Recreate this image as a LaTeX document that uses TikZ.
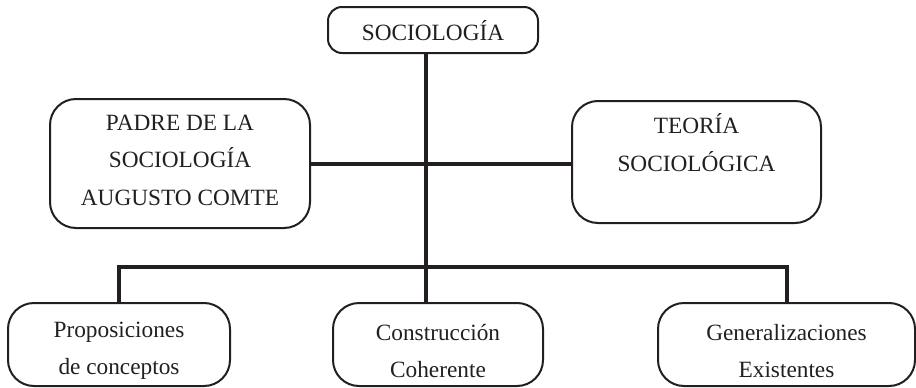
\documentclass[tikz,border=0pt]{standalone}
\usepackage{fontspec}
\setmainfont{Liberation Serif}
\definecolor{ink}{HTML}{231F20}
\begin{document}
\begin{tikzpicture}[x=1pt,y=-1pt,
  box/.style={draw=ink,line width=2pt,inner sep=0pt,rounded corners=#1},
  box/.default=26pt,
  txt/.style={text=ink,align=center,inner sep=0pt,
    font=\fontsize{23.3}{37.5}\selectfont},
  conn/.style={draw=ink,line width=4pt}]
\useasboundingbox (0,0) rectangle (916,388);
\node[box=14pt,minimum width=210pt,minimum height=46pt,
  label={[txt,yshift=-1pt]center:SOCIOLOGÍA}] (top) at (433,30) {};
\node[box,minimum width=260pt,minimum height=129pt,
  label={[txt,yshift=3.5pt]center:PADRE DE LA\\SOCIOLOGÍA\\AUGUSTO COMTE}] (left) at (180,163.5) {};
\node[box,minimum width=249pt,minimum height=122pt,
  label={[txt,yshift=-5pt]center:TEORÍA\\SOCIOLÓGICA\\\strut}] (right) at (696.5,162) {};
\node[box,minimum width=222pt,minimum height=83pt,
  label={[txt,yshift=-6.5pt]center:Proposiciones\\de conceptos}] (bl) at (119,344.5) {};
\node[box,minimum width=210pt,minimum height=83pt,
  label={[txt,yshift=-6.5pt]center:Construcción\\Coherente}] (bm) at (438,344.5) {};
\node[box,minimum width=257pt,minimum height=83pt,
  label={[txt,yshift=-6.5pt]center:Generalizaciones\\Existentes}] (br) at (786.5,344.5) {};
\coordinate (j1) at (426,164);
\coordinate (j2) at (426,267);
\draw[conn] (top.south -| j1) -- (bm.north -| j1);
\draw[conn] (left.east |- j1) -- (right.west |- j1);
\draw[conn] (bl.north) |- (j2) -| (br.north);
\end{tikzpicture}
\end{document}
